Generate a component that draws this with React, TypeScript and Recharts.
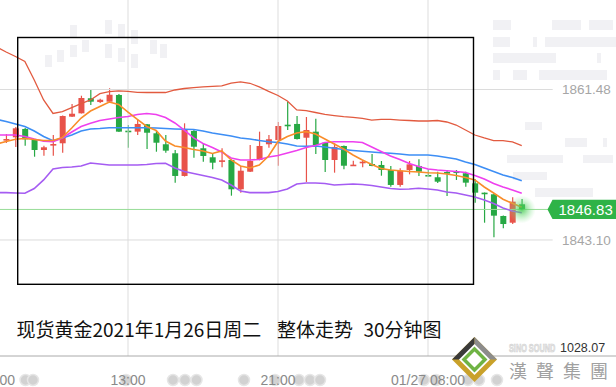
import React from 'react';
import { ComposedChart, Line, Bar, XAxis, YAxis, ReferenceLine, ReferenceDot } from 'recharts';

const opens = [null, 1855.37, 1855.64, 1856.66, 1855.31, 1854.09, 1854.70, 1854.91, 1858.16, 1858.57, 1860.41, 1859.95, 1859.99, 1860.81, 1856.45, 1856.33, 1857.23, 1856.13, 1854.79, 1853.69, 1850.92, 1856.41, 1854.30, 1853.20, 1852.75, 1852.87, 1849.29, 1851.44, 1852.87, 1854.79, 1855.31, 1857.18, 1857.27, 1855.59, 1856.33, 1854.98, 1852.87, 1854.58, 1852.22, 1852.47, 1852.38, 1852.26, 1851.65, 1849.82, 1851.65, 1852.14, 1851.04, 1850.76, 1851.40, 1851.47, 1851.25, 1850.02, 1848.88, 1848.68, 1846.03, 1845.21, 1847.46];
const highs = [null, 1856.04, 1856.90, 1856.78, 1855.40, 1854.62, 1855.92, 1858.30, 1859.71, 1860.72, 1861.42, 1860.36, 1861.63, 1860.93, 1857.14, 1857.75, 1857.27, 1856.53, 1855.92, 1854.09, 1857.35, 1856.53, 1854.91, 1853.69, 1854.30, 1852.93, 1852.14, 1854.70, 1856.33, 1855.92, 1857.51, 1859.95, 1858.24, 1858.12, 1857.91, 1855.01, 1854.91, 1854.64, 1852.78, 1852.87, 1853.60, 1852.75, 1852.14, 1851.86, 1852.75, 1852.96, 1851.73, 1851.44, 1851.65, 1851.65, 1851.44, 1850.51, 1848.90, 1848.78, 1846.09, 1848.31, 1848.11];
const lows = [null, 1854.95, 1854.46, 1854.62, 1853.27, 1853.39, 1853.39, 1853.76, 1858.12, 1858.55, 1859.59, 1859.83, 1859.87, 1856.29, 1854.37, 1855.92, 1854.21, 1853.88, 1853.76, 1850.10, 1850.85, 1853.15, 1852.66, 1851.73, 1851.98, 1848.51, 1848.88, 1851.40, 1852.83, 1854.37, 1852.17, 1856.53, 1855.37, 1850.18, 1853.60, 1851.40, 1851.32, 1851.73, 1852.20, 1851.98, 1852.10, 1850.95, 1849.61, 1849.61, 1851.12, 1850.92, 1850.83, 1850.06, 1848.47, 1850.43, 1849.61, 1847.65, 1845.21, 1843.43, 1844.53, 1845.05, 1846.79];
const closes = [null, 1855.43, 1856.74, 1855.40, 1854.09, 1854.42, 1854.82, 1858.24, 1858.52, 1860.44, 1859.99, 1860.23, 1860.84, 1856.33, 1856.37, 1857.27, 1856.20, 1854.98, 1854.01, 1850.92, 1856.53, 1854.49, 1853.36, 1852.54, 1852.83, 1849.29, 1851.56, 1852.75, 1854.58, 1855.40, 1857.02, 1857.11, 1855.43, 1856.53, 1854.70, 1852.87, 1854.46, 1852.17, 1852.30, 1852.66, 1852.14, 1851.65, 1849.82, 1851.56, 1852.34, 1851.44, 1850.96, 1850.22, 1851.33, 1851.34, 1850.10, 1848.88, 1848.80, 1846.07, 1845.05, 1847.78, 1846.83];

const bollUpper = [1866.67, 1866.06, 1865.51, 1864.90, 1862.64, 1860.20, 1858.55, 1858.77, 1859.26, 1859.75, 1860.20, 1860.97, 1861.21, 1861.30, 1861.24, 1861.14, 1861.11, 1861.11, 1861.11, 1861.42, 1861.60, 1861.72, 1861.79, 1861.85, 1861.91, 1862.27, 1862.40, 1862.24, 1861.79, 1861.24, 1860.75, 1860.08, 1858.98, 1858.89, 1858.67, 1858.43, 1858.30, 1858.16, 1858.08, 1857.94, 1857.75, 1857.82, 1857.82, 1857.75, 1857.69, 1857.63, 1857.63, 1857.69, 1857.51, 1857.14, 1856.53, 1855.92, 1855.56, 1855.23, 1855.23, 1855.07, 1854.62];
const bollMid = [1857.82, 1857.57, 1857.27, 1856.96, 1856.41, 1855.74, 1855.23, 1855.56, 1855.92, 1856.41, 1856.66, 1856.72, 1856.81, 1856.81, 1856.81, 1856.81, 1856.81, 1856.78, 1856.72, 1856.66, 1856.62, 1856.59, 1856.41, 1856.17, 1855.98, 1855.80, 1855.56, 1855.43, 1855.25, 1855.10, 1855.01, 1854.82, 1854.58, 1854.54, 1854.58, 1854.46, 1854.30, 1854.15, 1854.03, 1853.93, 1853.85, 1853.76, 1853.69, 1853.60, 1853.48, 1853.48, 1853.48, 1853.36, 1853.18, 1852.99, 1852.63, 1852.32, 1851.89, 1851.47, 1851.04, 1850.73, 1850.34];
const bollLower = [1848.88, 1848.88, 1848.84, 1848.80, 1849.39, 1850.43, 1851.77, 1851.95, 1852.01, 1852.14, 1852.50, 1852.38, 1852.26, 1852.26, 1852.26, 1852.26, 1852.32, 1852.44, 1852.47, 1851.89, 1851.47, 1851.22, 1850.98, 1850.73, 1850.43, 1849.82, 1849.08, 1848.88, 1848.88, 1848.88, 1849.02, 1849.33, 1849.94, 1850.06, 1850.06, 1850.00, 1849.82, 1849.88, 1849.94, 1849.88, 1849.76, 1849.57, 1849.39, 1849.29, 1849.33, 1849.41, 1849.33, 1849.21, 1848.96, 1848.84, 1848.60, 1848.35, 1847.98, 1847.56, 1847.01, 1846.64, 1846.43];
const ma10 = [1855.92, 1855.92, 1855.92, 1855.74, 1855.43, 1855.15, 1855.10, 1855.56, 1856.29, 1856.96, 1857.35, 1857.69, 1857.88, 1858.06, 1858.18, 1858.43, 1858.55, 1858.43, 1858.06, 1857.39, 1856.53, 1855.56, 1854.88, 1854.40, 1853.85, 1853.11, 1852.87, 1852.87, 1852.93, 1853.24, 1853.42, 1853.72, 1854.03, 1854.40, 1854.64, 1855.01, 1855.10, 1855.10, 1855.10, 1855.01, 1854.46, 1853.91, 1853.36, 1852.93, 1852.44, 1852.08, 1851.77, 1851.65, 1851.56, 1851.47, 1851.34, 1850.98, 1850.55, 1850.00, 1849.57, 1849.21, 1848.80];
const ma5 = [1854.82, 1855.13, 1855.40, 1855.50, 1855.37, 1855.25, 1855.25, 1855.62, 1856.78, 1858.00, 1858.85, 1859.40, 1859.95, 1859.65, 1858.73, 1857.82, 1856.96, 1856.47, 1855.19, 1854.58, 1854.40, 1854.15, 1853.97, 1853.66, 1853.97, 1852.87, 1852.14, 1851.89, 1852.26, 1853.36, 1855.13, 1855.74, 1856.17, 1856.33, 1856.04, 1855.43, 1854.82, 1854.21, 1853.48, 1852.87, 1852.32, 1851.83, 1851.65, 1851.56, 1851.47, 1851.40, 1851.32, 1851.28, 1851.16, 1850.98, 1850.73, 1850.43, 1849.57, 1848.84, 1848.07, 1847.58, 1847.09];

const tickSlots = [14, 30, 46];
const tickLabels = ['13:00', '21:00', '01/27 08:00'];
const gridPrices = [1861.48, 1843.1];
const lastPrice = 1846.83;
const titleParts = ['现货黄金2021年1月26日周二', '整体走势', '30分钟图'];

const RED = '#e8534a';
const GREEN = '#27a844';

const data = opens.map((o, i) => ({
  i,
  open: o,
  high: highs[i],
  low: lows[i],
  close: closes[i],
  upper: bollUpper[i],
  mid: bollMid[i],
  lower: bollLower[i],
  ma5: ma5[i],
  ma10: ma10[i],
}));

const lastIdx = data.length - 1;

const Candle = (props: any) => {
  const { x, y, width, height, payload } = props;
  if (!payload || payload.open == null) return null;
  const { open, close, high, low } = payload;
  const top = Math.min(y, y + height);
  const h = Math.abs(height);
  const py = (v: number) => (high === low ? top : top + ((high - v) / (high - low)) * h);
  const up = close >= open;
  const color = up ? RED : GREEN;
  const cx = x + width / 2;
  const bTop = py(Math.max(open, close));
  const bBot = py(Math.min(open, close));
  return (
    <g>
      <line x1={cx} x2={cx} y1={top} y2={top + h} stroke={color} strokeWidth={1.2} />
      <rect x={x} y={bTop} width={width} height={Math.max(1.6, bBot - bTop)} fill={color} />
    </g>
  );
};

const GrayPriceLabel = (text: string) => (p: any) => {
  const vb = p.viewBox || {};
  return (
    <text x={562} y={vb.y + 5} fontSize={13.5} fill="#a6a6a6" fontFamily="Liberation Sans, Arial, sans-serif">
      {text}
    </text>
  );
};

const LastTag = (p: any) => {
  const vb = p.viewBox || {};
  const cy = vb.y;
  const x0 = 547.5;
  return (
    <g>
      <polygon points={`${x0},${cy} ${x0 + 5},${cy - 9.6} ${616},${cy - 9.6} ${616},${cy + 9.6} ${x0 + 5},${cy + 9.6}`} fill="#2fb348" />
      <text x={558.5} y={cy + 5.3} fontSize={15} fill="#ffffff" fontFamily="Liberation Sans, Arial, sans-serif">
        {lastPrice.toFixed(2)}
      </text>
    </g>
  );
};

const Glow = (p: any) => {
  const { cx, cy } = p;
  return (
    <g>
      <defs>
        <radialGradient id="glowG">
          <stop offset="0%" stopColor="#3cc94a" stopOpacity={0.85} />
          <stop offset="45%" stopColor="#5fd66a" stopOpacity={0.45} />
          <stop offset="100%" stopColor="#8fe897" stopOpacity={0} />
        </radialGradient>
      </defs>
      <circle cx={cx} cy={cy} r={14} fill="url(#glowG)" />
    </g>
  );
};

const dotXs = [25.5, 33, 126, 173, 185, 196.5, 244, 275, 299, 310, 320, 424, 436, 468, 479, 497];

const wmRects = [
  [493, 20, 18, 10], [552, 20, 29, 10], [589, 20, 24, 10],
  [493, 37, 17, 10], [533, 37, 4, 10], [545, 37, 71, 10],
  [493, 53, 63, 10], [597, 53, 4, 10],
  [493, 70, 7, 10], [513, 70, 14, 10], [539, 70, 68, 10],
  [525, 122, 17, 8], [565, 138, 22, 9], [603, 138, 4, 9],
  [507, 155, 56, 8], [583, 155, 30, 8], [513, 172, 34, 8], [535, 188, 58, 9],
  [70, 25, 7, 12], [105, 20, 7, 14], [118, 24, 7, 14], [131, 30, 7, 14],
  [45, 55, 7, 12], [57, 50, 7, 12], [70, 45, 7, 12], [82, 40, 7, 12], [105, 44, 7, 14], [118, 48, 7, 14], [131, 54, 7, 14], [150, 40, 7, 14], [160, 44, 7, 14],
];

export default function App() {
  return (
    <div style={{ position: 'absolute', left: 0, top: 0, width: 616, height: 387, overflow: 'hidden', background: '#ffffff' }}>
      <svg width={616} height={387} style={{ position: 'absolute', left: 0, top: 0 }}>
        {wmRects.map((r, k) => (
          <rect key={k} x={r[0]} y={r[1]} width={r[2]} height={r[3]} fill="#f1f1f4" />
        ))}
        {dotXs.map((x, k) => (
          <circle key={k} cx={x} cy={380} r={5.5} fill="#d2d2d2" stroke="#e6e6e6" strokeWidth={1.5} />
        ))}
      </svg>
      <div style={{ position: 'absolute', left: 0, top: 0 }}>
        <ComposedChart width={616} height={387} data={data} margin={{ top: 0, right: 0, bottom: 0, left: 0 }}>
          <XAxis
            type="number"
            dataKey="i"
            domain={[0.3467, 66.053]}
            allowDataOverflow
            ticks={tickSlots}
            interval={0}
            tickFormatter={(v: number) => tickLabels[tickSlots.indexOf(v)] ?? ''}
            axisLine={{ stroke: '#aaaaaa' }}
            tickLine={false}
            tickSize={0}
            tickMargin={19}
            height={31}
            tick={{ fontSize: 14, fill: '#8a8a8a', fontFamily: 'Liberation Sans, Arial, sans-serif' }}
          />
          <YAxis hide type="number" domain={[1828.93, 1872.41]} allowDataOverflow />
          {tickSlots.map((t) => (
            <ReferenceLine key={t} x={t} stroke="#dddddd" strokeWidth={1} />
          ))}
          <ReferenceLine
            segment={[{ x: 0.3467, y: gridPrices[0] }, { x: 59.3, y: gridPrices[0] }]}
            stroke="#dcdcdc"
            strokeWidth={1}
            label={GrayPriceLabel(gridPrices[0].toFixed(2))}
          />
          <ReferenceLine
            segment={[{ x: 0.3467, y: gridPrices[1] }, { x: 59.3, y: gridPrices[1] }]}
            stroke="#dcdcdc"
            strokeWidth={1}
            label={GrayPriceLabel(gridPrices[1].toFixed(2))}
          />
          <ReferenceLine
            segment={[{ x: 0.3467, y: lastPrice }, { x: 58.8, y: lastPrice }]}
            stroke="#97dc97"
            strokeWidth={1}
            label={LastTag}
          />
          <ReferenceDot x={lastIdx} y={lastPrice} r={14} shape={Glow} />
          <Line type="linear" dataKey="upper" stroke="#e25a3f" strokeWidth={1.3} dot={false} isAnimationActive={false} />
          <Line type="linear" dataKey="lower" stroke="#a55cf2" strokeWidth={1.6} dot={false} isAnimationActive={false} />
          <Line type="linear" dataKey="mid" stroke="#3d8ef5" strokeWidth={1.6} dot={false} isAnimationActive={false} />
          <Line type="linear" dataKey="ma10" stroke="#ee40ee" strokeWidth={1.6} dot={false} isAnimationActive={false} />
          <Line type="linear" dataKey="ma5" stroke="#f98d2a" strokeWidth={1.6} dot={false} isAnimationActive={false} />
          <Bar
            dataKey={(d: any) => (d.high == null ? null : [d.low, d.high])}
            barSize={6}
            shape={Candle}
            isAnimationActive={false}
          />
        </ComposedChart>
      </div>
      <svg width={616} height={387} style={{ position: 'absolute', left: 0, top: 0, pointerEvents: 'none' }}>
        <rect x={17.7} y={37.5} width={455.8} height={246.8} fill="none" stroke="#000000" strokeWidth={1.4} />
        <text y={337} fontSize={19} fill="#111111" fontFamily="'Noto Sans CJK SC', sans-serif">
          <tspan x={16.5}>{titleParts[0]}</tspan>
          <tspan x={277}>{titleParts[1]}</tspan>
          <tspan x={363.5}>{titleParts[2]}</tspan>
        </text>
        <text x={15} y={385} textAnchor="end" fontSize={14} fill="#8a8a8a" fontFamily="Liberation Sans, Arial, sans-serif">00</text>
        <g>
          <polygon points="474.5,337 497,359.5 474.5,382 452,359.5" fill="#c9a12a" />
          <polygon points="474.5,337 452,359.5 463.5,359.5 474.5,348.5" fill="#3a3a3a" />
          <polygon points="474.5,337 497,359.5 485.5,359.5 474.5,348.5" fill="#8c8c8c" />
          <polygon points="474.5,344 490,359.5 474.5,375 459,359.5" fill="#ffffff" />
          <polygon points="474.5,349 485,359.5 474.5,370 464,359.5" fill="none" stroke="#6fb344" strokeWidth={3.5} />
        </g>
        <text transform="translate(509,352) scale(1,1.5)" fontSize={7.3} fontWeight="bold" fill="#e8e8e8" stroke="#cfcfcf" strokeWidth={0.4} fontFamily="Liberation Sans, Arial, sans-serif">SINO SOUND</text>
        <text x={560} y={352} fontSize={12.5} fill="#333333" fontFamily="Liberation Sans, Arial, sans-serif">1028.07</text>
        <text x={509} y={378} fontSize={18} fill="#a0a0a0" letterSpacing={9} fontFamily="'Noto Sans CJK TC', sans-serif">漢聲集團</text>
      </svg>
    </div>
  );
}
